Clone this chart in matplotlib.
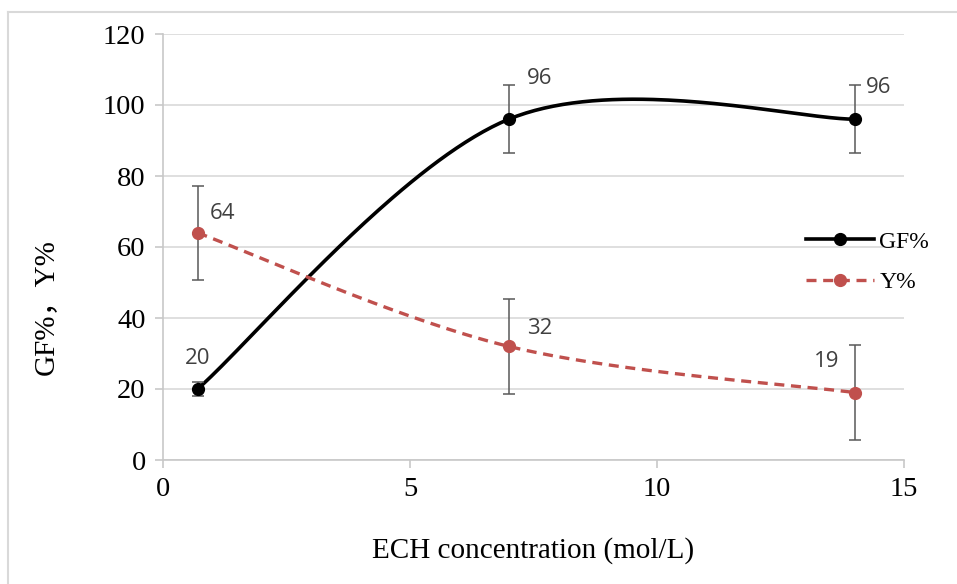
import numpy as np
import matplotlib
matplotlib.use("Agg")
import matplotlib.pyplot as plt
from matplotlib.lines import Line2D

# data
ech_conc = [0.7, 7, 14]
gf_pct = [20, 96, 96]
gf_err = [2.0, 9.6, 9.6]
y_pct = [64, 32, 19]
y_err = [13.3, 13.3, 13.3]
x_ticks = [0, 5, 10, 15]
y_ticks = [0, 20, 40, 60, 80, 100, 120]

red = '#C0504D'
grey_txt = '#404040'
serif = ['Liberation Serif', 'Noto Sans CJK SC', 'DejaVu Serif']
sans = ['Open Sans', 'DejaVu Sans']


def excel_smooth(xs, ys, n=80):
    # bezier through the points, control points like excel's smoothed line
    px = np.array(xs, float)
    py = np.array(ys, float)
    px = np.concatenate([[px[0]], px, [px[-1]]])
    py = np.concatenate([[py[0]], py, [py[-1]]])
    out_x, out_y = [], []
    t = np.linspace(0, 1, n)
    for i in range(1, len(px) - 2):
        p0 = np.array([px[i], py[i]])
        p3 = np.array([px[i + 1], py[i + 1]])
        p1 = p0 + (np.array([px[i + 1], py[i + 1]]) - np.array([px[i - 1], py[i - 1]])) / 6
        p2 = p3 - (np.array([px[i + 2], py[i + 2]]) - p0) / 6
        bx = (1 - t) ** 3 * p0[0] + 3 * t * (1 - t) ** 2 * p1[0] + 3 * t ** 2 * (1 - t) * p2[0] + t ** 3 * p3[0]
        by = (1 - t) ** 3 * p0[1] + 3 * t * (1 - t) ** 2 * p1[1] + 3 * t ** 2 * (1 - t) * p2[1] + t ** 3 * p3[1]
        out_x.extend(bx)
        out_y.extend(by)
    return out_x, out_y


fig = plt.figure(figsize=(9.57, 5.84), dpi=100)
ax = fig.add_axes([163 / 957, 124 / 584, 741 / 957, 426 / 584])

# outer frame (only left and top edges visible)
fig.add_artist(Line2D([8 / 957, 8 / 957], [0, 1 - 12 / 584], transform=fig.transFigure, color='#d9d9d9', lw=1.5))
fig.add_artist(Line2D([8 / 957, 1], [1 - 12 / 584, 1 - 12 / 584], transform=fig.transFigure, color='#d9d9d9', lw=1.5))

# smoothed lines
sx, sy = excel_smooth(ech_conc, gf_pct)
ax.plot(sx, sy, color='black', lw=2.6, zorder=3)
sx, sy = excel_smooth(ech_conc, y_pct)
ax.plot(sx, sy, color=red, lw=2.4, ls=(0, (3.0, 2.0)), zorder=3)

ax.errorbar(ech_conc, gf_pct, yerr=gf_err, fmt='none', ecolor='#595959', elinewidth=1.1, capsize=4.3, capthick=1.1, zorder=4)
ax.errorbar(ech_conc, y_pct, yerr=y_err, fmt='none', ecolor='#595959', elinewidth=1.1, capsize=4.3, capthick=1.1, zorder=4)
ax.plot(ech_conc, gf_pct, 'o', color='black', ms=8.5, zorder=5)
ax.plot(ech_conc, y_pct, 'o', color=red, ms=8.5, zorder=5)

# data labels
gf_offsets = [(0, 22), (22, 29), (17, 23)]
y_offsets = [(18, 14), (22, 13), (-20, 22)]
for xv, yv, off in zip(ech_conc, gf_pct, gf_offsets):
    ax.annotate(str(yv), (xv, yv), xytext=off, textcoords='offset points',
                ha='center', va='center', fontsize=16, color=grey_txt, family=sans)
for xv, yv, off in zip(ech_conc, y_pct, y_offsets):
    ax.annotate(str(yv), (xv, yv), xytext=off, textcoords='offset points',
                ha='center', va='center', fontsize=16, color=grey_txt, family=sans)

ax.set_xlim(0, 15)
ax.set_ylim(0, 120)
ax.set_xticks(x_ticks)
ax.set_yticks(y_ticks)
ax.grid(axis='y', color='#d9d9d9', lw=1.2)
ax.set_axisbelow(True)
for s in ['top', 'right']:
    ax.spines[s].set_visible(False)
for s in ['left', 'bottom']:
    ax.spines[s].set_color('#c8c8c8')
    ax.spines[s].set_linewidth(1.2)
ax.tick_params(axis='both', colors='#c8c8c8', length=5.5, width=1.2, labelcolor='black', labelsize=20.5)
ax.tick_params(axis='y', pad=7)
ax.tick_params(axis='x', pad=7)
for lab in ax.get_xticklabels() + ax.get_yticklabels():
    lab.set_family(serif)

fig.text(533 / 957, 1 - 551 / 584, 'ECH concentration (mol/L)', ha='center', va='center',
         fontsize=21, family=serif)
fig.text(46 / 957, 1 - 307 / 584, 'GF%\uff0cY%', ha='center', va='center', rotation=90,
         fontsize=21, family=serif)

handles = [Line2D([], [], color='black', lw=2.6, marker='o', ms=8.5),
           Line2D([], [], color=red, lw=2.4, ls=(0, (3.0, 2.0)), marker='o', ms=8.5)]
leg = fig.legend(handles, ['GF%', 'Y%'], loc='center left', bbox_to_anchor=(806 / 957, 1 - 262 / 584),
                 frameon=False, borderpad=0, borderaxespad=0, handlelength=2.9, handletextpad=0.2,
                 labelspacing=0.8, prop={'family': serif, 'size': 17})

fig.savefig('out.png', dpi=100)
